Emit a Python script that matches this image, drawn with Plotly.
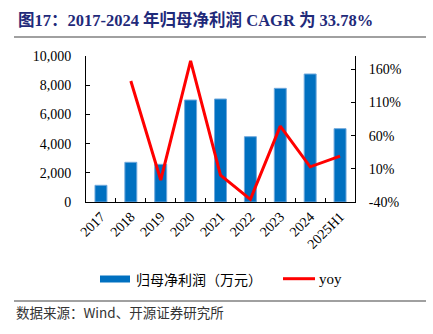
import plotly.graph_objects as go

categories = ["2017", "2018", "2019", "2020", "2021", "2022", "2023", "2024", "2025H1"]
profit = [1144, 2719, 2580, 6986, 7055, 4473, 7785, 8767, 5023]
yoy_cats = ["2018", "2019", "2020", "2021", "2022", "2023", "2024", "2025H1"]
yoy = [142.4, -6.9, 172.5, 0.6, -36.0, 74.3, 13.0, 29.2]
left_ticks = [0, 2000, 4000, 6000, 8000, 10000]
left_labels = ["0", "2,000", "4,000", "6,000", "8,000", "10,000"]
right_ticks = [-40, 10, 60, 110, 160]
right_labels = ["-40%", "10%", "60%", "110%", "160%"]

SERIF = "Liberation Serif, Times New Roman, Noto Sans CJK SC, serif"
CJK = "Noto Sans CJK SC, Liberation Serif, sans-serif"

L, R, T, B = 86, 355, 56, 202
W, H = 433, 334


def px(x):
    return (x - L) / (R - L)


def py(y):
    return (B - y) / (B - T)


fig = go.Figure()
fig.add_trace(go.Bar(
    x=categories, y=profit, name="归母净利润（万元）",
    marker=dict(color="#0070C0", line=dict(color="#6FA8DC", width=1)),
    yaxis="y", showlegend=False,
))
fig.add_trace(go.Scatter(
    x=yoy_cats, y=yoy, name="yoy", mode="lines",
    line=dict(color="#FF0000", width=3),
    yaxis="y2", showlegend=False,
))

shapes = [
    dict(type="line", xref="paper", yref="paper", x0=px(14), x1=px(426), y0=py(37), y1=py(37),
         line=dict(color="#808080", width=1.5)),
    dict(type="line", xref="paper", yref="paper", x0=px(14), x1=px(426), y0=py(301), y1=py(301),
         line=dict(color="#808080", width=1.5)),
    dict(type="rect", xref="paper", yref="paper", x0=px(100), x1=px(130), y0=py(275.5), y1=py(282.5),
         fillcolor="#0070C0", line=dict(width=0)),
    dict(type="line", xref="paper", yref="paper", x0=px(283), x1=px(315), y0=py(278.7), y1=py(278.7),
         line=dict(color="#FF0000", width=3)),
]

annotations = [
    dict(text="<b>图17：2017-2024 年归母净利润 CAGR 为 33.78%</b>", xref="paper", yref="paper",
         x=px(16), y=py(19.5), xanchor="left", yanchor="middle", showarrow=False,
         font=dict(family=SERIF, size=16.5, color="#1F2A7A")),
    dict(text="归母净利润（万元）", xref="paper", yref="paper",
         x=px(134), y=py(279), xanchor="left", yanchor="middle", showarrow=False,
         font=dict(family=CJK, size=14, color="#000000")),
    dict(text="yoy", xref="paper", yref="paper",
         x=px(317), y=py(279), xanchor="left", yanchor="middle", showarrow=False,
         font=dict(family=SERIF, size=15, color="#000000")),
    dict(text="数据来源：Wind、开源证券研究所", xref="paper", yref="paper",
         x=px(14), y=py(312), xanchor="left", yanchor="middle", showarrow=False,
         font=dict(family=CJK, size=13.5, color="#333333")),
]

fig.update_layout(
    width=W, height=H,
    margin=dict(l=L, r=W - R, t=T, b=H - B, pad=0),
    paper_bgcolor="white", plot_bgcolor="white",
    bargap=0.6,
    font=dict(family=SERIF, size=14, color="#000000"),
    shapes=shapes, annotations=annotations,
    showlegend=False,
    xaxis=dict(
        type="category", categoryorder="array", categoryarray=categories,
        showline=True, linecolor="#000000", linewidth=1,
        ticks="inside", ticklen=4, tickcolor="#000000", tickson="boundaries",
        tickangle=-45, tickfont=dict(family=SERIF, size=14),
        showgrid=False, zeroline=False,
    ),
    yaxis=dict(
        range=[0, 10000], tickmode="array", tickvals=left_ticks, ticktext=left_labels,
        showline=True, linecolor="#000000", linewidth=1,
        ticks="inside", ticklen=4, tickcolor="#000000", ticklabelstandoff=11,
        tickfont=dict(family=SERIF, size=14),
        showgrid=False, zeroline=False,
    ),
    yaxis2=dict(
        range=[-40, 180], tickmode="array", tickvals=right_ticks, ticktext=right_labels,
        overlaying="y", side="right",
        showline=True, linecolor="#000000", linewidth=1,
        ticks="inside", ticklen=4, tickcolor="#000000", ticklabelstandoff=10,
        tickfont=dict(family=SERIF, size=14),
        showgrid=False, zeroline=False,
    ),
)

fig.write_html("out.html")
